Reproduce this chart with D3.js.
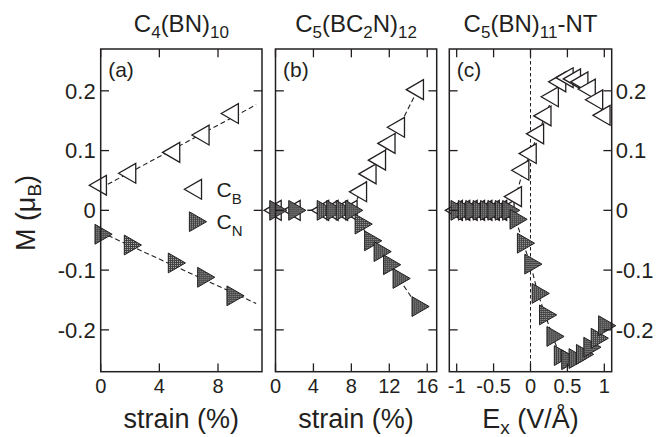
<!DOCTYPE html>
<html>
<head>
<meta charset="utf-8">
<script src="https://cdn.jsdelivr.net/npm/d3@7"></script>
<style>
  html, body { margin: 0; padding: 0; background: #fff; }
  svg { display: block; font-family: "Liberation Sans", Arial, Helvetica, sans-serif; }
</style>
</head>
<body>
<svg id="chart" width="669" height="437"></svg>
<script>
// Magnetic moment M (in units of mu_B) on the C_B and C_N edges

// (a) C4(BN)10 vs strain
const strainA = [0, 2, 5, 7, 9];
const cbA = [0.042, 0.062, 0.097, 0.126, 0.162];
const cnA = [-0.040, -0.058, -0.088, -0.112, -0.143];
const fitRangeA = [0, 10.6];

// (b) C5(BC2N)12 vs strain
const strainB = [0, 2, 5, 6, 7, 8, 9, 10, 11, 12, 13, 15];
const cbB = [0, 0, 0, 0, 0, 0, 0.031, 0.061, 0.084, 0.112, 0.139, 0.202];
const cnB = [0, 0, 0, 0, 0, 0, -0.023, -0.051, -0.069, -0.091, -0.114, -0.161];

// (c) C5(BN)11 nanotube vs transverse field
const fieldC = [-1.0, -0.9, -0.8, -0.7, -0.6, -0.5, -0.4, -0.3, -0.2, -0.1, 0.0, 0.1, 0.2, 0.3, 0.4, 0.5, 0.6, 0.7, 0.8, 0.9, 1.0];
const cbC = [0, 0, 0, 0, 0, 0, 0, 0, 0.023, 0.067, 0.095, 0.128, 0.158, 0.190, 0.215, 0.222, 0.220, 0.215, 0.203, 0.185, 0.159];
const cnC = [0, 0, 0, 0, 0, 0, 0, 0, -0.015, -0.055, -0.090, -0.139, -0.175, -0.211, -0.243, -0.250, -0.248, -0.241, -0.229, -0.214, -0.193];

// Axis ticks
const yTicks = [-0.2, -0.1, 0, 0.1, 0.2];
const yTickLabels = ["-0.2", "-0.1", "0", "0.1", "0.2"];
const xTicksA = [0, 4, 8];
const xTicksB = [0, 4, 8, 12, 16];
const xTicksC = [-1, -0.5, 0, 0.5, 1];
const xTickLabelsC = ["-1", "-0.5", "0", "0.5", "1"];

const svg = d3.select("#chart");
const ink = "#231f20";

const plotTop = 49, plotBottom = 371.7;
const y = d3.scaleLinear().domain([0.27, -0.27]).range([plotTop, plotBottom]);

// Mesh fill for the filled C_N markers
const defs = svg.append("defs");
const pat = defs.append("pattern")
  .attr("id", "mesh").attr("patternUnits", "userSpaceOnUse")
  .attr("width", 2).attr("height", 2);
pat.append("rect").attr("width", 2).attr("height", 2).attr("fill", "#414141");
pat.append("rect").attr("width", 1).attr("height", 1).attr("fill", "#b0b0b0");

const triSize = 170;
const triPath = d3.symbol(d3.symbolTriangle, triSize)();

function drawMarker(g, px, py, kind) {
  g.append("path")
    .attr("d", triPath)
    .attr("transform", `translate(${px},${py}) rotate(${kind === "B" ? -90 : 90})`)
    .attr("fill", kind === "B" ? "#fff" : "url(#mesh)")
    .attr("stroke", ink)
    .attr("stroke-width", kind === "B" ? 1.3 : 1);
}

// Writes text pieces into a <text>, lowering the ones flagged as subscripts
function richText(textSel, parts, subSize, shift) {
  let offset = 0;
  parts.forEach(([txt, sub]) => {
    const want = sub ? shift : 0;
    const ts = textSel.append("tspan").attr("dy", want - offset).text(txt);
    if (sub) ts.attr("font-size", subSize);
    offset = want;
  });
}

function panel(opts) {
  const x = d3.scaleLinear().domain(opts.domain).range([opts.left, opts.right]);
  const g = svg.append("g");

  // zero-field marker
  if (opts.zeroLine) {
    g.append("line")
      .attr("x1", x(0)).attr("x2", x(0))
      .attr("y1", plotTop).attr("y2", plotBottom)
      .attr("stroke", ink).attr("stroke-width", 1)
      .attr("stroke-dasharray", "3.5,2.5");
  }

  const plot = g.append("g");
  const lineGen = d3.line().x(d => x(d[0])).y(d => y(d[1]));

  opts.series.forEach(s => {
    const pts = s.xs.map((v, i) => [v, s.ys[i]]);
    let linePts = pts;
    if (s.fitRange) {
      // least-squares line through the points
      const mx = d3.mean(pts, d => d[0]), my = d3.mean(pts, d => d[1]);
      const slope = d3.sum(pts, d => (d[0] - mx) * (d[1] - my)) / d3.sum(pts, d => (d[0] - mx) ** 2);
      const icpt = my - slope * mx;
      linePts = s.fitRange.map(v => [v, icpt + slope * v]);
    }
    plot.append("path")
      .attr("d", lineGen(linePts))
      .attr("fill", "none").attr("stroke", ink)
      .attr("stroke-width", 1.1).attr("stroke-dasharray", "5,3");
  });
  opts.series.forEach(s => {
    s.xs.forEach((v, i) => drawMarker(plot, x(v), y(s.ys[i]), s.kind));
  });

  // frame
  g.append("rect")
    .attr("x", opts.left).attr("y", plotTop)
    .attr("width", opts.right - opts.left).attr("height", plotBottom - plotTop)
    .attr("fill", "none").attr("stroke", ink).attr("stroke-width", 1.5);

  const tl = 8.3;
  // x ticks, bottom and top, inward
  opts.xTicks.forEach(t => {
    const px = x(t);
    g.append("line").attr("x1", px).attr("x2", px).attr("y1", plotBottom).attr("y2", plotBottom - tl)
      .attr("stroke", ink).attr("stroke-width", 1.3);
    g.append("line").attr("x1", px).attr("x2", px).attr("y1", plotTop).attr("y2", plotTop + tl)
      .attr("stroke", ink).attr("stroke-width", 1.3);
  });
  // y ticks, left and right, inward
  yTicks.forEach(t => {
    const py = y(t);
    g.append("line").attr("x1", opts.left).attr("x2", opts.left + tl).attr("y1", py).attr("y2", py)
      .attr("stroke", ink).attr("stroke-width", 1.3);
    g.append("line").attr("x1", opts.right).attr("x2", opts.right - tl).attr("y1", py).attr("y2", py)
      .attr("stroke", ink).attr("stroke-width", 1.3);
  });

  // x tick labels
  opts.xTicks.forEach((t, i) => {
    g.append("text").attr("x", x(t)).attr("y", 393)
      .attr("text-anchor", "middle").attr("font-size", 20).attr("fill", ink)
      .text(opts.xTickLabels ? opts.xTickLabels[i] : String(t));
  });

  // y tick labels
  if (opts.yLabelSide) {
    const left = opts.yLabelSide === "left";
    yTicks.forEach((t, i) => {
      g.append("text")
        .attr("x", left ? opts.left - 5 : opts.right + 4)
        .attr("y", y(t) + 7.8)
        .attr("text-anchor", left ? "end" : "start")
        .attr("font-size", 22).attr("fill", ink)
        .text(yTickLabels[i]);
    });
  }

  // panel letter
  g.append("text").attr("x", opts.left + 7.5).attr("y", plotTop + 28)
    .attr("font-size", 21).attr("fill", ink).text(opts.letter);

  // title with subscripts
  const cx = (opts.left + opts.right) / 2;
  const title = g.append("text").attr("x", cx).attr("y", 32)
    .attr("text-anchor", "middle").attr("font-size", 24).attr("fill", ink);
  richText(title, opts.title, 17, 6);

  // x axis label
  const xl = g.append("text").attr("x", cx).attr("y", 428)
    .attr("text-anchor", "middle").attr("font-size", 27).attr("fill", ink);
  richText(xl, opts.xLabel, 19, 6);

  return { x, g };
}

panel({
  left: 100.7, right: 262, domain: [0, 11], xTicks: xTicksA, letter: "(a)",
  yLabelSide: "left",
  title: [["C"], ["4", true], ["(BN)"], ["10", true]],
  xLabel: [["strain (%)"]],
  series: [
    { kind: "B", xs: strainA, ys: cbA, fitRange: fitRangeA },
    { kind: "N", xs: strainA, ys: cnA, fitRange: fitRangeA }
  ]
});

panel({
  left: 275.5, right: 436.7, domain: [0, 17], xTicks: xTicksB, letter: "(b)",
  title: [["C"], ["5", true], ["(BC"], ["2", true], ["N)"], ["12", true]],
  xLabel: [["strain (%)"]],
  series: [
    { kind: "B", xs: strainB, ys: cbB },
    { kind: "N", xs: strainB, ys: cnB }
  ]
});

panel({
  left: 449.3, right: 611.7, domain: [-1.1, 1.1], xTicks: xTicksC, xTickLabels: xTickLabelsC,
  letter: "(c)", yLabelSide: "right", zeroLine: true,
  title: [["C"], ["5", true], ["(BN)"], ["11", true], ["-NT"]],
  xLabel: [["E"], ["x", true], [" (V/\u00C5)"]],
  series: [
    { kind: "B", xs: fieldC, ys: cbC },
    { kind: "N", xs: fieldC, ys: cnC }
  ]
});

// legend inside panel (a)
const leg = svg.append("g");
[["B", 189.3, 195.8], ["N", 221.7, 195.1]].forEach(([k, py, px]) => {
  drawMarker(leg, px, py, k);
  const t = leg.append("text").attr("x", 216.5).attr("y", py + 7.5)
    .attr("font-size", 21).attr("fill", ink);
  richText(t, [["C"], [k, true]], 15, 7);
});

// y axis label
const yl = svg.append("text")
  .attr("transform", "translate(35,213) rotate(-90)")
  .attr("text-anchor", "middle").attr("font-size", 27).attr("fill", ink);
richText(yl, [["M (\u03BC"], ["B", true], [")"]], 19, 6);
</script>
</body>
</html>
